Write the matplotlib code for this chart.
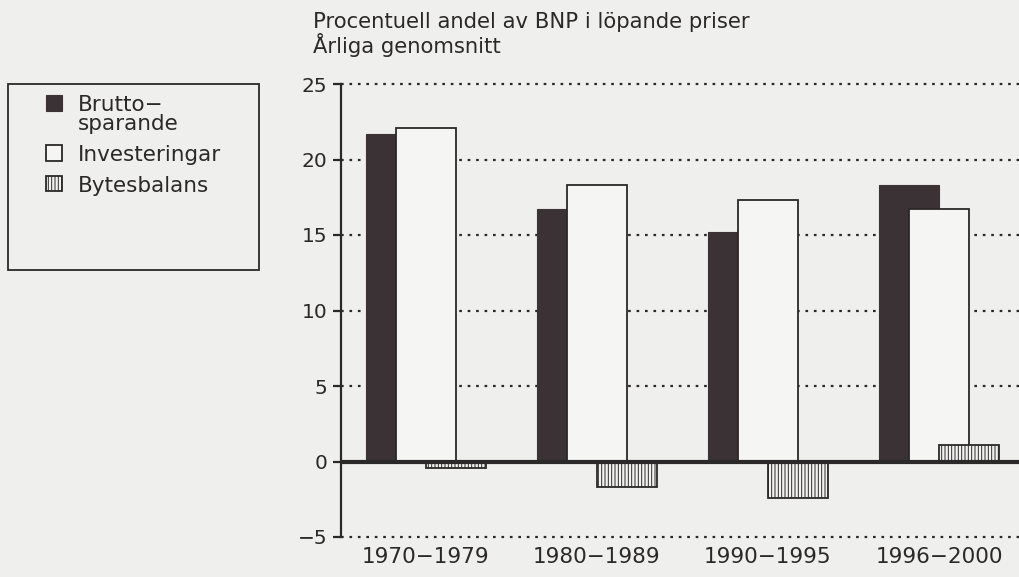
import matplotlib
matplotlib.use("Agg")
import matplotlib.pyplot as plt
from matplotlib.patches import Rectangle
import numpy as np

periods = ["1970\u22121979", "1980\u22121989", "1990\u22121995", "1996\u22122000"]
bruttosparande = [21.7, 16.7, 15.2, 18.3]
investeringar = [22.1, 18.3, 17.3, 16.7]
bytesbalans = [-0.4, -1.7, -2.4, 1.1]
yticks = [-5, 0, 5, 10, 15, 20, 25]

title_lines = ["Procentuell andel av BNP i löpande priser", "Årliga genomsnitt"]
legend_labels = ["Brutto\u2212\nsparande", "Investeringar", "Bytesbalans"]

BG = "#efefed"
INK = "#2b2829"
DARK = "#3a3234"

plt.rcParams["font.family"] = ["DejaVu Sans"]
plt.rcParams["hatch.linewidth"] = 0.7

W, H = 1019, 577
fig = plt.figure(figsize=(W / 100, H / 100), dpi=100, facecolor=BG)
ax = fig.add_axes([341 / W, 1 - 537 / H, 1 - 341 / W, (537 - 84) / H])
ax.set_facecolor(BG)

x = np.arange(len(periods))
w = 0.35
off = 0.175
b1 = ax.bar(x - off, bruttosparande, w, color=DARK, edgecolor=DARK, linewidth=0.8, zorder=2)
b2 = ax.bar(x, investeringar, w, color="#f5f5f3", edgecolor=INK, linewidth=1.3, zorder=3)
b3 = ax.bar(x + off, bytesbalans, w, color="#f2f2f0", edgecolor=INK, linewidth=1.3,
            hatch="|||||", zorder=4)

ax.set_xlim(-0.497, 3.468)
ax.set_ylim(-5, 25)
ax.set_yticks(yticks)
ax.set_xticks(x)
ax.set_xticklabels(periods)

for yv in yticks:
    if yv != 0:
        ax.axhline(yv, color=INK, lw=1.6, linestyle=(0, (1.2, 2.6)), zorder=1, clip_on=False)
ax.axhline(0, color=INK, lw=3.0, zorder=5)

for s in ["top", "right", "bottom"]:
    ax.spines[s].set_visible(False)
ax.spines["left"].set_color(INK)
ax.spines["left"].set_linewidth(1.6)
ax.tick_params(axis="y", direction="out", length=6, width=1.6, color=INK,
               labelsize=14.5, labelcolor=INK, pad=4)
ax.tick_params(axis="x", length=0, labelsize=15.5, labelcolor=INK, pad=7)

fig.text(313 / W, 1 - 22 / H, title_lines[0], fontsize=15.2, color=INK, va="center", ha="left")
fig.text(313 / W, 1 - 45 / H, title_lines[1], fontsize=15.2, color=INK, va="center", ha="left")

# legend frame
fig.patches.append(Rectangle((8 / W, 1 - 270 / H), (259 - 8) / W, (270 - 84) / H,
                             transform=fig.transFigure, facecolor=BG, edgecolor=INK,
                             linewidth=1.3, zorder=0))
leg = fig.legend([b1, b2, b3], legend_labels, loc="upper left",
                 bbox_to_anchor=(46 / W, 1 - 95 / H), frameon=False,
                 fontsize=15.5, handlelength=0.75, handleheight=0.75, handletextpad=0.75,
                 labelspacing=0.5, borderpad=0, borderaxespad=0)
for t in leg.get_texts():
    t.set_color(INK)
    t.set_linespacing(0.95)
try:
    for col in leg._legend_handle_box.get_children():
        for item in col.get_children():
            item.align = "top"
except Exception:
    pass

fig.savefig("out.png", dpi=100, facecolor=BG)
